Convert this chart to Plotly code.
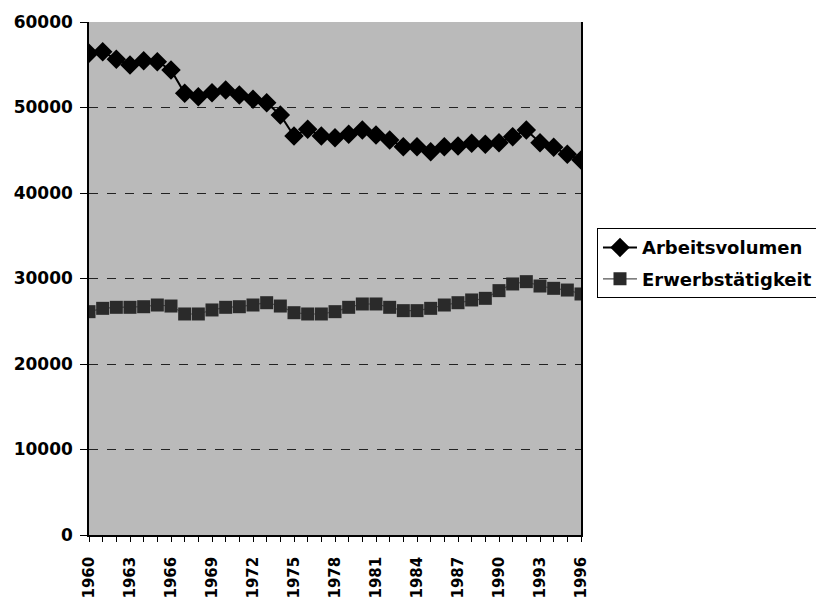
import plotly.graph_objects as go

years = list(range(1960, 1997))
arbeitsvolumen = [56340, 56530, 55640, 54970, 55470, 55360, 54390, 51660, 51260, 51730,
                  52050, 51460, 50960, 50560, 49120, 46670, 47450, 46670, 46470, 46860,
                  47370, 46780, 46200, 45420, 45420, 44830, 45420, 45500, 45810, 45690,
                  45890, 46590, 47370, 45890, 45340, 44530, 43860]
erwerbstaetigkeit = [26120, 26510, 26630, 26630, 26700, 26900, 26780, 25850, 25850, 26320,
                     26630, 26700, 26900, 27170, 26780, 26000, 25850, 25850, 26120, 26630,
                     27020, 27020, 26630, 26240, 26240, 26510, 26900, 27170, 27490, 27680,
                     28580, 29360, 29630, 29120, 28850, 28650, 28190]
tick_years = list(range(1960, 1997, 3))
tick_labels = [str(y) for y in tick_years]
y_ticks = [0, 10000, 20000, 30000, 40000, 50000, 60000]

FONT = "DejaVu Sans, Verdana, Arial"

fig = go.Figure()
fig.add_trace(go.Scatter(
    x=years, y=arbeitsvolumen, name="Arbeitsvolumen", mode="lines+markers",
    line=dict(color="black", width=2),
    marker=dict(symbol="diamond", size=15, color="black"),
    legendgroup="a",
))
fig.add_trace(go.Scatter(
    x=years, y=erwerbstaetigkeit, name="Erwerbstätigkeit", mode="lines+markers",
    line=dict(color="#555555", width=1.2),
    marker=dict(symbol="square", size=13, color="#2a2a2a"),
    legendgroup="b",
))

fig.update_layout(
    width=816, height=591,
    margin=dict(l=81, r=243, t=14, b=64, autoexpand=False),
    paper_bgcolor="white",
    plot_bgcolor="#bababa",
    font=dict(family=FONT, size=17, color="black", weight="bold"),
    showlegend=True,
    legend=dict(
        x=1.0325, xanchor="left", y=0.598, yanchor="top",
        bgcolor="white", bordercolor="black", borderwidth=1,
        font=dict(family=FONT, size=18, color="black", weight="bold"),
        tracegroupgap=5, traceorder="grouped", itemwidth=34,
    ),
    xaxis=dict(
        range=[1960, 1996], tickmode="array", tickvals=tick_years, ticktext=tick_labels,
        tickangle=-90, showgrid=False, zeroline=False, automargin=False,
        showline=True, linecolor="black", linewidth=1.5,
        ticks="outside", ticklen=5, tickcolor="black", ticklabelstandoff=9,
        minor=dict(dtick=1, tick0=1960, ticks="outside", ticklen=5, tickcolor="black", showgrid=False),
        tickfont=dict(family=FONT, size=15, weight="bold"),
    ),
    yaxis=dict(
        range=[0, 60000], tickmode="array", tickvals=y_ticks,
        ticktext=[str(v) for v in y_ticks], automargin=False,
        showgrid=True, gridcolor="#222222", griddash="dash", gridwidth=1,
        zeroline=False, showline=True, linecolor="black", linewidth=1.5, mirror=True,
        ticks="outside", ticklen=7, tickcolor="black", ticklabelstandoff=4,
        tickfont=dict(family=FONT, size=17, weight="bold"),
    ),
)

fig.write_html("out.html")
